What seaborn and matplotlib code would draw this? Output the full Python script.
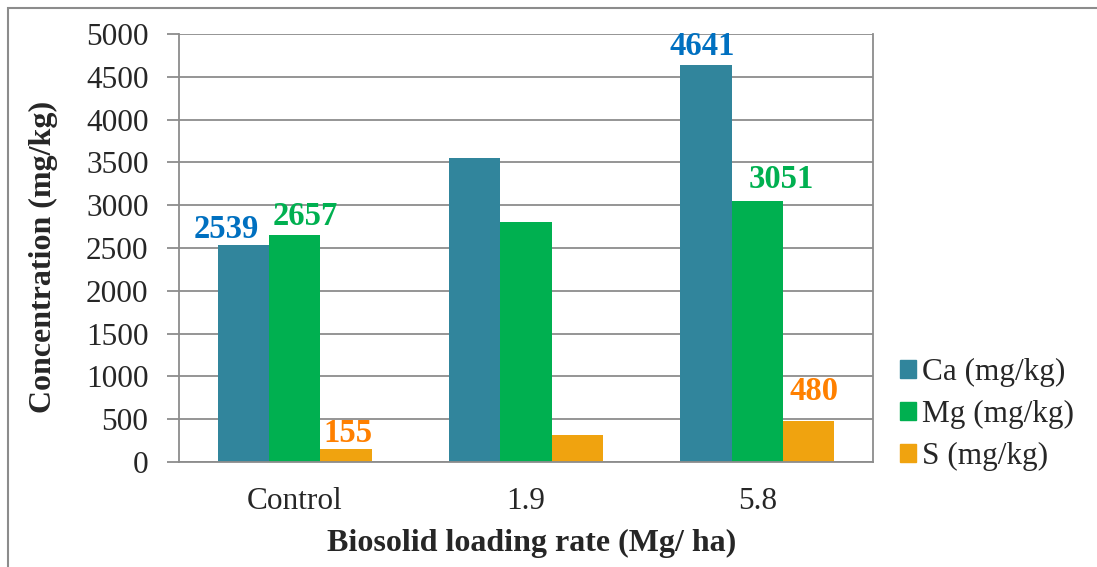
import matplotlib
matplotlib.use("Agg")
import matplotlib.pyplot as plt
import matplotlib.patches as mpatches
import seaborn as sns
import pandas as pd

# Data
rates = ["Control", "1.9", "5.8"]
ca_values = [2539, 3555, 4641]
mg_values = [2657, 2805, 3051]
s_values = [155, 312, 480]
series_names = ["Ca (mg/kg)", "Mg (mg/kg)", "S (mg/kg)"]
labelled_rates = ["Control", "5.8"]

bar_colors = ["#31859C", "#00B050", "#F0A30F"]
label_colors = ["#0070C0", "#00B050", "#FF8000"]

df = pd.DataFrame({
    "rate": rates * 3,
    "element": [series_names[0]] * 3 + [series_names[1]] * 3 + [series_names[2]] * 3,
    "value": ca_values + mg_values + s_values,
})

sns.set_theme(style="white")
plt.rcParams["font.family"] = ["Liberation Serif", "DejaVu Serif"]

W, H = 1097, 567
fig = plt.figure(figsize=(W / 100, H / 100), dpi=100)
ax = fig.add_axes([179 / W, 1 - 462 / H, (873 - 179) / W, (462 - 34) / H])

sns.barplot(data=df, x="rate", y="value", hue="element", order=rates,
            hue_order=series_names, palette=bar_colors, width=0.667, gap=0,
            saturation=1, edgecolor="none", linewidth=0, ax=ax, legend=False)

grid_color = "#8c8c8c"
ax.set_ylim(0, 5000)
ax.set_xlim(-0.5, 2.5)
ax.set_yticks(range(0, 5001, 500))
ax.yaxis.grid(True, color=grid_color, linewidth=1.3)
ax.set_axisbelow(True)
for side in ["left", "right", "bottom"]:
    ax.spines[side].set_visible(True)
    ax.spines[side].set_color(grid_color)
    ax.spines[side].set_linewidth(1.3)
ax.spines["top"].set_visible(False)

# Category boundaries carry the tick marks; labels sit in the middle
ax.set_xticks([0, 1, 2])
ax.set_xticks([-0.5, 0.5, 1.5, 2.5], minor=True)
ax.tick_params(axis="x", which="major", length=0, pad=18, labelsize=22.5)
ax.tick_params(axis="x", which="minor", length=10, width=1.3, color=grid_color)
ax.tick_params(axis="y", length=9, width=1.3, color=grid_color, labelsize=22.5, pad=13,
               left=True)
ax.set_xlabel("")
ax.set_ylabel("")

fig.text(532 / W, 1 - 543 / H, "Biosolid loading rate (Mg/ ha)", fontsize=23,
         fontweight="bold", ha="center", va="center")
fig.text(43 / W, 1 - 257 / H, "Concentration (mg/kg)", fontsize=23,
         fontweight="bold", ha="center", va="center", rotation=90)

# Value labels on the Control and 5.8 bars (offsets in pixels from the bar top)
nudges = {
    ("Ca (mg/kg)", "Control"): (-17, 7), ("Mg (mg/kg)", "Control"): (11, 10),
    ("S (mg/kg)", "Control"): (2, 7), ("Ca (mg/kg)", "5.8"): (-4, 10),
    ("Mg (mg/kg)", "5.8"): (24, 13), ("S (mg/kg)", "5.8"): (5, 21),
}
values_by_series = [ca_values, mg_values, s_values]
for si, container in enumerate(ax.containers):
    for ri, bar in enumerate(container):
        rate = rates[ri]
        if rate not in labelled_rates:
            continue
        val = values_by_series[si][ri]
        dx, dy = nudges.get((series_names[si], rate), (0, 7))
        ax.annotate(f"{val}", (bar.get_x() + bar.get_width() / 2, val),
                    xytext=(dx * 0.72, dy * 0.72), textcoords="offset points",
                    ha="center", va="baseline", fontsize=23.5, fontweight="bold",
                    color=label_colors[si])

handles = [mpatches.Patch(color=c, label=n) for c, n in zip(bar_colors, series_names)]
fig.legend(handles=handles, loc="center left", bbox_to_anchor=(900 / W, 1 - 414.5 / H),
           frameon=False, fontsize=22.5, handlelength=0.52, handleheight=0.52,
           handletextpad=0.18, labelspacing=0.42, borderaxespad=0, borderpad=0)

# Outer chart frame
fig.patches.append(mpatches.Rectangle((8 / W, -0.1), 1.2, 1.1 - 8 / H,
                                      transform=fig.transFigure, fill=False,
                                      edgecolor="#8c8c8c", linewidth=1.5))

fig.savefig("out.png", dpi=100)
